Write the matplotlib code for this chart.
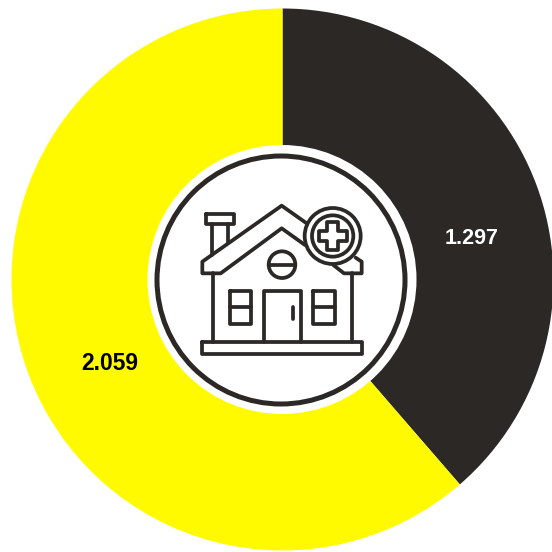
import matplotlib
matplotlib.use("Agg")
import matplotlib.pyplot as plt
from matplotlib.patches import Circle, Polygon

# Values shown on the ring
values = [1297, 2059]
labels = ["1.297", "2.059"]
colors = ["#2b2826", "#fffa00"]
label_colors = ["white", "black"]

DARK = "#2b2826"
CX, CY, R = 282.5, 279.5, 271
SIZE = 552
ICON_LW = 2.7


def flip(py):
    return SIZE - py


def ix(zx):
    return 190 + zx / 3


def iy(zy):
    return flip(190 + zy / 3)


def icon_line(ax, pts, lw=ICON_LW):
    ax.plot(
        [ix(p[0]) for p in pts],
        [iy(p[1]) for p in pts],
        color=DARK,
        lw=lw,
        solid_capstyle="round",
        solid_joinstyle="round",
        zorder=5,
    )


def icon_rect(ax, x0, y0, x1, y1):
    icon_line(ax, [(x0, y0), (x1, y0), (x1, y1), (x0, y1), (x0, y0)])


def draw_house(ax):
    # chimney
    icon_rect(ax, 47, 72, 132, 103)
    icon_line(ax, [(65, 103), (65, 195)])
    icon_line(ax, [(115, 103), (115, 160)])

    # roof
    icon_line(ax, [(350, 100), (275, 47), (37, 215), (37, 250), (92, 250), (275, 115), (345, 165)])
    icon_line(ax, [(430, 225), (462, 250), (515, 250), (515, 215), (497, 203)])

    # walls and base
    icon_line(ax, [(68, 250), (68, 455)])
    icon_line(ax, [(485, 250), (485, 455)])
    icon_rect(ax, 37, 457, 515, 492)

    # round window
    ax.add_patch(Circle((ix(276), iy(224)), 40 / 3, fill=False, ec=DARK, lw=ICON_LW, zorder=5))
    icon_line(ax, [(238, 224), (314, 224)])

    # windows
    for x0, x1 in [(120, 184), (370, 434)]:
        icon_rect(ax, x0, 302, x1, 402)
        icon_line(ax, [(x0, 352), (x1, 352)])

    # door
    icon_line(ax, [(221, 455), (221, 302), (332, 302), (332, 455)])
    icon_line(ax, [(310, 352), (310, 388)])

    # badge with cross
    bx, by = 428, 138
    ax.add_patch(Circle((ix(bx), iy(by)), 84 / 3, fc="white", ec=DARK, lw=ICON_LW, zorder=6))
    ax.add_patch(Circle((ix(bx), iy(by)), 62 / 3, fill=False, ec=DARK, lw=ICON_LW, zorder=7))
    a, b = 16, 42
    cross = [
        (-a, -b), (a, -b), (a, -a), (b, -a), (b, a), (a, a),
        (a, b), (-a, b), (-a, a), (-b, a), (-b, -a), (-a, -a),
    ]
    ax.add_patch(
        Polygon(
            [(ix(bx + p[0]), iy(by + p[1])) for p in cross],
            closed=True, fill=False, ec=DARK, lw=ICON_LW, joinstyle="round", zorder=7,
        )
    )


fig = plt.figure(figsize=(5.52, 5.52), dpi=100, facecolor="white")
ax = fig.add_axes([0, 0, 1, 1])

ax.pie(
    values,
    colors=colors,
    startangle=90,
    counterclock=False,
    center=(CX, flip(CY)),
    radius=R,
    frame=True,
)
ax.set_xlim(0, SIZE)
ax.set_ylim(0, SIZE)
ax.set_aspect("auto")
ax.axis("off")

ax.add_patch(Circle((282, flip(279.5)), 134.5, fc="white", ec="none", zorder=3))
ax.add_patch(Circle((281, flip(280)), 124, fc="white", ec=DARK, lw=3.6, zorder=4))

draw_house(ax)

ax.text(471.5, flip(238), labels[0], color=label_colors[0], fontsize=15.5,
        fontweight="bold", family="Liberation Sans", ha="center", va="center", zorder=5)
ax.text(109.5, flip(364), labels[1], color=label_colors[1], fontsize=16.5,
        fontweight="bold", family="Liberation Sans", ha="center", va="center", zorder=5)

fig.savefig("out.png", dpi=100)
